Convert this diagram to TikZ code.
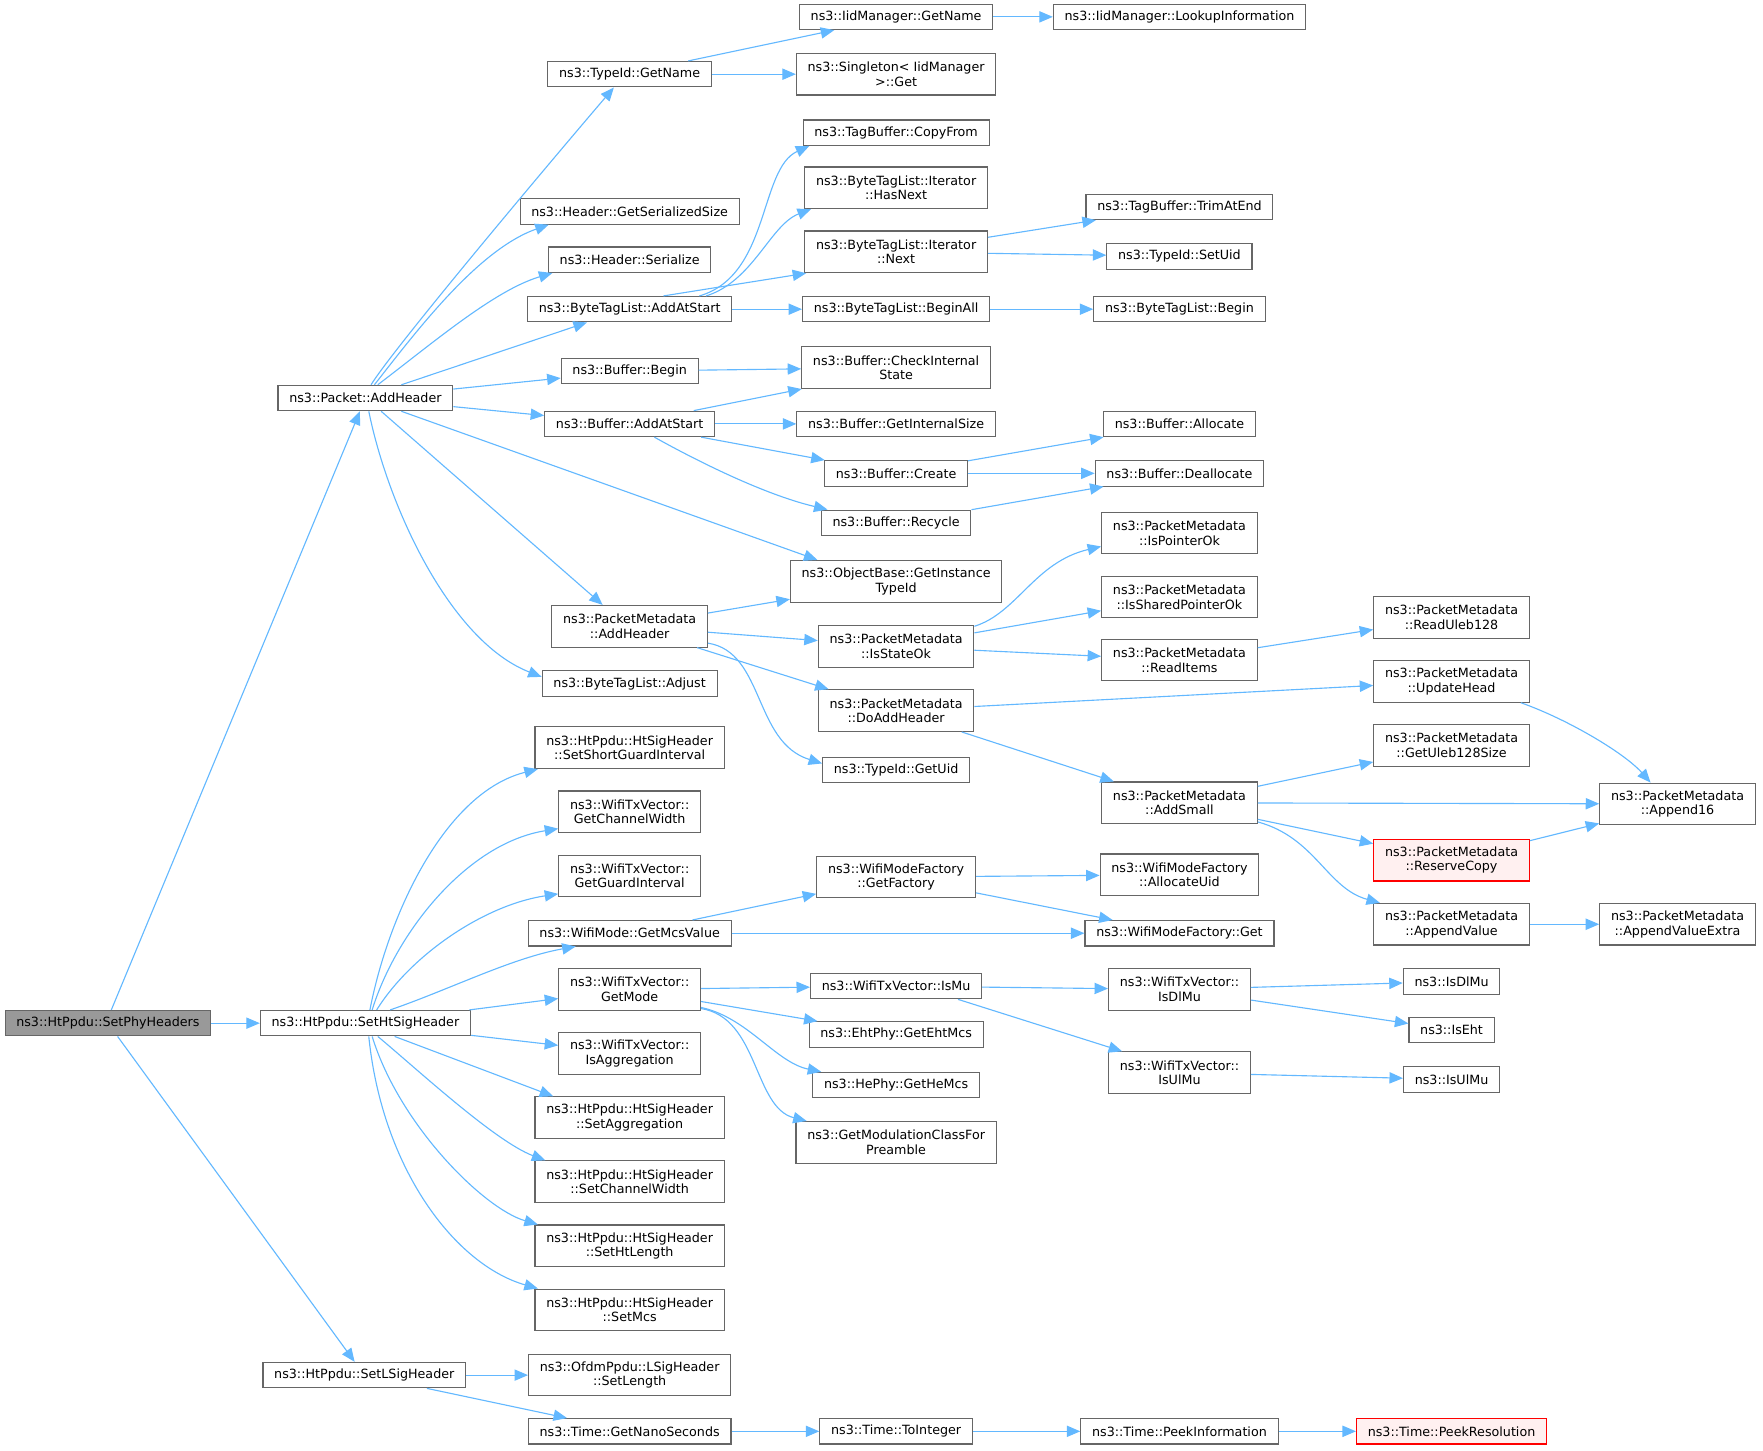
\documentclass[tikz,border=0pt]{standalone}
\usepackage{fontspec}
\usetikzlibrary{arrows.meta}
\newfontfamily\dxfont{DejaVu Sans}
\newcommand\dxsize{\fontsize{5.65}{6.5}\selectfont}
\definecolor{edgeblue}{HTML}{63B8FF}
\definecolor{boxgray}{HTML}{666666}
\definecolor{rootgray}{HTML}{999999}
\definecolor{badfill}{HTML}{FFF0F0}
\begin{document}
\begin{tikzpicture}[x=0.5pt,y=-0.5pt,
  every node/.style={font=\dxfont\dxsize},
  calls/.style={draw=edgeblue,line width=0.5pt,-{Triangle[length=6pt,width=5pt]}}
]

\tikzstyle{fnbox}=[draw=boxgray,fill=white,line width=0.5pt,inner xsep=5pt,inner ysep=1pt,minimum height=11.3pt,align=center]
\tikzstyle{fnbox2}=[fnbox,minimum height=18.5pt]
\tikzstyle{rootbox}=[fill=rootgray]
\tikzstyle{redbox}=[draw=red,fill=badfill]

\useasboundingbox (0,0) rectangle (1568,1290);

\node [fnbox,rootbox] (phy) at (96,910) {ns3::HtPpdu::SetPhyHeaders};
\node [fnbox] (addhdr) at (325,354) {ns3::Packet::AddHeader};
\node [fnbox] (htsig) at (325,910) {ns3::HtPpdu::SetHtSigHeader};
\node [fnbox] (lsig) at (324,1223) {ns3::HtPpdu::SetLSigHeader};

\node [fnbox] (getname) at (560,66) {ns3::TypeId::GetName};
\node [fnbox] (sersize) at (560,188) {ns3::Header::GetSerializedSize};
\node [fnbox] (serialize) at (560,231) {ns3::Header::Serialize};
\node [fnbox] (tagadd) at (560,275) {ns3::ByteTagList::AddAtStart};
\node [fnbox] (bufbegin) at (560,330) {ns3::Buffer::Begin};
\node [fnbox] (bufadd) at (560,377) {ns3::Buffer::AddAtStart};
\node [fnbox2] (pmadd) at (560,557) {ns3::PacketMetadata\\::AddHeader};
\node [fnbox] (adjust) at (560,608) {ns3::ByteTagList::Adjust};
\node [fnbox2] (sgi) at (560,665) {ns3::HtPpdu::HtSigHeader\\::SetShortGuardInterval};
\node [fnbox2] (chw) at (560,722) {ns3::WifiTxVector::\\GetChannelWidth};
\node [fnbox2] (gi) at (560,779) {ns3::WifiTxVector::\\GetGuardInterval};
\node [fnbox] (mcsval) at (560,830) {ns3::WifiMode::GetMcsValue};
\node [fnbox2] (getmode) at (560,880) {ns3::WifiTxVector::\\GetMode};
\node [fnbox2] (isagg) at (560,937) {ns3::WifiTxVector::\\IsAggregation};
\node [fnbox2] (setagg) at (560,994) {ns3::HtPpdu::HtSigHeader\\::SetAggregation};
\node [fnbox2] (setchw) at (560,1051) {ns3::HtPpdu::HtSigHeader\\::SetChannelWidth};
\node [fnbox2] (sethtl) at (560,1108) {ns3::HtPpdu::HtSigHeader\\::SetHtLength};
\node [fnbox2] (setmcs) at (560,1165) {ns3::HtPpdu::HtSigHeader\\::SetMcs};
\node [fnbox2] (setlen) at (560,1223) {ns3::OfdmPpdu::LSigHeader\\::SetLength};
\node [fnbox] (nanosec) at (560,1273) {ns3::Time::GetNanoSeconds};

\node [fnbox] (iidname) at (797,15) {ns3::IidManager::GetName};
\node [fnbox2] (singleton) at (797,66) {ns3::Singleton< IidManager\\ >::Get};
\node [fnbox] (copyfrom) at (797,118) {ns3::TagBuffer::CopyFrom};
\node [fnbox2] (hasnext) at (797,167) {ns3::ByteTagList::Iterator\\::HasNext};
\node [fnbox2] (next) at (797,224) {ns3::ByteTagList::Iterator\\::Next};
\node [fnbox] (beginall) at (797,275) {ns3::ByteTagList::BeginAll};
\node [fnbox2] (checkint) at (797,327) {ns3::Buffer::CheckInternal\\State};
\node [fnbox] (intsize) at (797,377) {ns3::Buffer::GetInternalSize};
\node [fnbox] (bufcreate) at (797,421) {ns3::Buffer::Create};
\node [fnbox] (recycle) at (797,465) {ns3::Buffer::Recycle};
\node [fnbox2] (insttid) at (797,517) {ns3::ObjectBase::GetInstance\\TypeId};
\node [fnbox2] (stateok) at (797,575) {ns3::PacketMetadata\\::IsStateOk};
\node [fnbox2] (doadd) at (797,632) {ns3::PacketMetadata\\::DoAddHeader};
\node [fnbox] (getuid) at (797,685) {ns3::TypeId::GetUid};
\node [fnbox2] (factory) at (797,780) {ns3::WifiModeFactory\\::GetFactory};
\node [fnbox] (ismu) at (797,877) {ns3::WifiTxVector::IsMu};
\node [fnbox] (ehtmcs) at (797,920) {ns3::EhtPhy::GetEhtMcs};
\node [fnbox] (hemcs) at (797,965) {ns3::HePhy::GetHeMcs};
\node [fnbox2] (modclass) at (797,1016) {ns3::GetModulationClassFor\\Preamble};
\node [fnbox] (tointeger) at (797,1273) {ns3::Time::ToInteger};

\node [fnbox] (lookup) at (1049,15) {ns3::IidManager::LookupInformation};
\node [fnbox] (trim) at (1049,184) {ns3::TagBuffer::TrimAtEnd};
\node [fnbox] (setuid) at (1049,228) {ns3::TypeId::SetUid};
\node [fnbox] (tagbegin) at (1049,275) {ns3::ByteTagList::Begin};
\node [fnbox] (allocate) at (1049,377) {ns3::Buffer::Allocate};
\node [fnbox] (dealloc) at (1049,421) {ns3::Buffer::Deallocate};
\node [fnbox2] (ptrok) at (1049,474) {ns3::PacketMetadata\\::IsPointerOk};
\node [fnbox2] (shptrok) at (1049,531) {ns3::PacketMetadata\\::IsSharedPointerOk};
\node [fnbox2] (readitems) at (1049,587) {ns3::PacketMetadata\\::ReadItems};
\node [fnbox2] (addsmall) at (1049,714) {ns3::PacketMetadata\\::AddSmall};
\node [fnbox2] (allocuid) at (1049,778) {ns3::WifiModeFactory\\::AllocateUid};
\node [fnbox] (factget) at (1049,830) {ns3::WifiModeFactory::Get};
\node [fnbox2] (isdlmu) at (1049,880) {ns3::WifiTxVector::\\IsDlMu};
\node [fnbox2] (isulmu) at (1049,954) {ns3::WifiTxVector::\\IsUlMu};
\node [fnbox] (peekinfo) at (1049,1273) {ns3::Time::PeekInformation};

\node [fnbox2] (uleb) at (1291,549) {ns3::PacketMetadata\\::ReadUleb128};
\node [fnbox2] (updhead) at (1291,606) {ns3::PacketMetadata\\::UpdateHead};
\node [fnbox2] (ulebsize) at (1291,663) {ns3::PacketMetadata\\::GetUleb128Size};
\node [fnbox2,redbox] (reserve) at (1291,765) {ns3::PacketMetadata\\::ReserveCopy};
\node [fnbox2] (appendval) at (1291,822) {ns3::PacketMetadata\\::AppendValue};
\node [fnbox] (dlmu) at (1291,873) {ns3::IsDlMu};
\node [fnbox] (iseht) at (1291,916) {ns3::IsEht};
\node [fnbox] (ulmu) at (1291,960) {ns3::IsUlMu};
\node [fnbox,redbox] (peekres) at (1291,1273) {ns3::Time::PeekResolution};

\node [fnbox2] (append16) at (1492,715) {ns3::PacketMetadata\\::Append16};
\node [fnbox2] (extra) at (1492,822) {ns3::PacketMetadata\\::AppendValueExtra};

\draw [calls] ([shift={(3,0)}]phy.north) -- (addhdr);
\draw [calls] (phy) -- (htsig);
\draw [calls] (phy) -- (lsig);

\draw [calls] ([shift={(5,0)}]addhdr.north) .. controls (350,310) and (480,155) .. ([shift={(-14,0)}]getname.south);
\draw [calls] ([shift={(8,0)}]addhdr.north) .. controls (370,295) and (425,222) .. ([shift={(26,0)}]sersize.south west);
\draw [calls] ([shift={(11,0)}]addhdr.north) .. controls (385,305) and (440,258) .. ([shift={(4,0)}]serialize.south west);
\draw [calls] ([shift={(32,0)}]addhdr.north) -- ([shift={(-38,0)}]tagadd.south);
\draw [calls] (addhdr) -- (bufbegin);
\draw [calls] (addhdr) -- (bufadd);
\draw [calls] ([shift={(32,0)}]addhdr.south) -- ([shift={(-70,0)}]insttid.north);
\draw [calls] ([shift={(14,0)}]addhdr.south) -- ([shift={(-24,0)}]pmadd.north);
\draw [calls] ([shift={(3,0)}]addhdr.south) .. controls (345,450) and (400,570) .. ([shift={(0,-6)}]adjust.west);

\draw [calls] ([shift={(52,0)}]getname.north) -- ([shift={(-55,0)}]iidname.south);
\draw [calls] (getname) -- (singleton);
\draw [calls] (iidname) -- (lookup);

\draw [calls] ([shift={(62,0)}]tagadd.north) .. controls (685,245) and (675,150) .. ([shift={(6,0)}]copyfrom.south west);
\draw [calls] ([shift={(68,0)}]tagadd.north) .. controls (670,250) and (685,200) .. ([shift={(6,0)}]hasnext.south west);
\draw [calls] ([shift={(30,0)}]tagadd.north) -- ([shift={(-80,0)}]next.south);
\draw [calls] (tagadd) -- (beginall);
\draw [calls] (next) -- (trim);
\draw [calls] (next) -- (setuid);
\draw [calls] (beginall) -- (tagbegin);

\draw [calls] (bufbegin) -- (checkint);
\draw [calls] ([shift={(57,0)}]bufadd.north) -- ([shift={(-84,0)}]checkint.south);
\draw [calls] (bufadd) -- (intsize);
\draw [calls] (bufadd) -- (bufcreate);
\draw [calls] ([shift={(22,0)}]bufadd.south) .. controls (620,410) and (680,440) .. ([shift={(6,0)}]recycle.north west);
\draw [calls] (bufcreate) -- (allocate);
\draw [calls] (bufcreate) -- (dealloc);
\draw [calls] (recycle) -- (dealloc);

\draw [calls] (pmadd) -- (insttid);
\draw [calls] (pmadd) -- (stateok);
\draw [calls] (pmadd) -- (doadd);
\draw [calls] ([shift={(0,-4)}]pmadd.south east) .. controls (680,580) and (670,660) .. ([shift={(0,-6)}]getuid.west);
\draw [calls] ([shift={(0,-18)}]stateok.east) .. controls (905,545) and (920,500) .. ([shift={(0,12)}]ptrok.west);
\draw [calls] (stateok) -- (shptrok);
\draw [calls] (stateok) -- (readitems);
\draw [calls] (readitems) -- (uleb);
\draw [calls] (doadd) -- (updhead);
\draw [calls] (doadd) -- (addsmall);
\draw [calls] ([shift={(-8,0)}]updhead.south east) .. controls (1395,640) and (1445,670) .. ([shift={(-24,0)}]append16.north);
\draw [calls] (addsmall) -- (ulebsize);
\draw [calls] (addsmall) -- (append16);
\draw [calls] (addsmall) -- (reserve);
\draw [calls] ([shift={(0,-2)}]addsmall.south east) .. controls (1170,745) and (1180,790) .. ([shift={(6,0)}]appendval.north west);
\draw [calls] (reserve) -- (append16);
\draw [calls] (appendval) -- (extra);

\draw [calls] ([shift={(4,0)}]htsig.north) .. controls (345,815) and (395,705) .. ([shift={(3,0)}]sgi.south west);
\draw [calls] ([shift={(6,0)}]htsig.north) .. controls (352,830) and (415,750) .. ([shift={(0,-4)}]chw.south west);
\draw [calls] ([shift={(10,0)}]htsig.north) .. controls (365,850) and (430,805) .. ([shift={(0,-3)}]gi.south west);
\draw [calls] ([shift={(22,0)}]htsig.north) .. controls (400,880) and (455,852) .. ([shift={(-48,0)}]mcsval.south);
\draw [calls] (htsig) -- (getmode);
\draw [calls] (htsig) -- (isagg);
\draw [calls] ([shift={(26,0)}]htsig.south) -- ([shift={(-68,0)}]setagg.north);
\draw [calls] ([shift={(11,0)}]htsig.south) .. controls (370,950) and (440,1015) .. ([shift={(-75,0)}]setchw.north);
\draw [calls] ([shift={(6,0)}]htsig.south) .. controls (355,1000) and (430,1075) .. ([shift={(3,0)}]sethtl.north west);
\draw [calls] ([shift={(3,0)}]htsig.south) .. controls (340,1040) and (405,1125) .. ([shift={(3,0)}]setmcs.north west);

\draw [calls] (mcsval) -- (factory);
\draw [calls] (mcsval) -- (factget);
\draw [calls] (factory) -- (allocuid);
\draw [calls] (factory) -- (factget);
\draw [calls] (getmode) -- (ismu);
\draw [calls] (getmode) -- (ehtmcs);
\draw [calls] ([shift={(0,16)}]getmode.east) .. controls (665,905) and (690,945) .. ([shift={(8,0)}]hemcs.north west);
\draw [calls] ([shift={(0,17)}]getmode.east) .. controls (675,905) and (670,985) .. ([shift={(10,0)}]modclass.north west);
\draw [calls] (ismu) -- (isdlmu);
\draw [calls] ([shift={(55,0)}]ismu.south) -- ([shift={(-51,0)}]isulmu.north);
\draw [calls] (isdlmu) -- (dlmu);
\draw [calls] (isdlmu) -- (iseht);
\draw [calls] (isulmu) -- (ulmu);

\draw [calls] (lsig) -- (setlen);
\draw [calls] (lsig) -- (nanosec);
\draw [calls] (nanosec) -- (tointeger);
\draw [calls] (tointeger) -- (peekinfo);
\draw [calls] (peekinfo) -- (peekres);
\end{tikzpicture}
\end{document}
